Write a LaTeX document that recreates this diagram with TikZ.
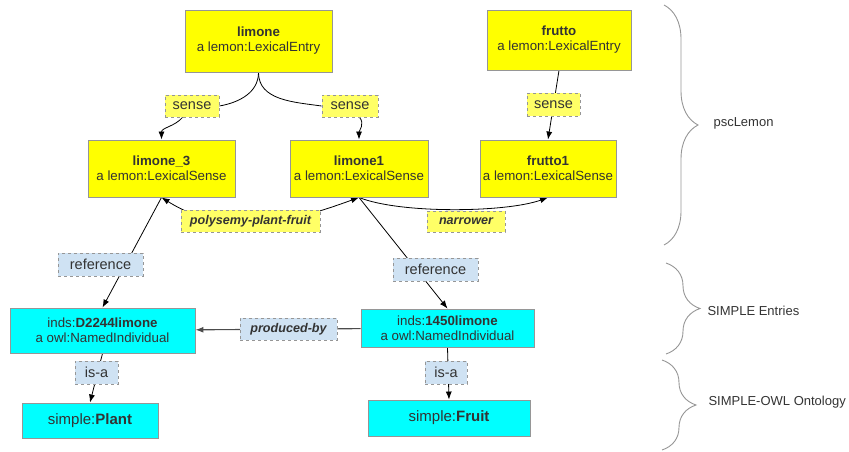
\documentclass[tikz,border=0pt]{standalone}
\usepackage{fontspec}
\setmainfont{Liberation Sans}
\usepackage{xcolor}
\usetikzlibrary{arrows.meta,positioning,backgrounds,decorations.pathreplacing}
\definecolor{lemonyellow}{RGB}{255,255,0}
\definecolor{palelemon}{RGB}{255,255,102}
\definecolor{simplecyan}{RGB}{0,255,255}
\definecolor{paleblue}{RGB}{207,226,243}
\definecolor{boxgray}{RGB}{150,150,150}
\definecolor{inkgray}{RGB}{51,51,51}

\begin{document}
\begin{tikzpicture}[
    x=1pt, y=-1pt,
    every node/.style={text=inkgray},
    >={Latex[length=8pt,width=6pt]},
    entry/.style={draw=boxgray, line width=0.9pt, fill=lemonyellow, align=center,
        inner sep=0pt, font=\fontsize{13.3}{15}\selectfont},
    indiv/.style={entry, fill=simplecyan},
    ylab/.style={draw=boxgray, dashed, line width=0.8pt, fill=palelemon,
        inner sep=0pt, font=\fontsize{14.5}{16}\selectfont},
    blab/.style={ylab, fill=paleblue},
    rel/.style={font=\fontsize{12.6}{14}\selectfont\bfseries\itshape},
    link/.style={line width=0.8pt, draw=black},
    brace/.style={draw=boxgray, line width=0.9pt, decorate,
        decoration={brace, amplitude=34pt}},
    side/.style={anchor=west, font=\fontsize{13}{15}\selectfont}
]
\useasboundingbox (0,0) rectangle (849,451);

% Lexical entries and senses (pscLemon)
\node[entry, minimum width=147pt, minimum height=62pt] (limone) at (258.5,41) {\textbf{limone}\\a lemon:LexicalEntry};
\node[entry, minimum width=144pt, minimum height=60pt] (frutto) at (559,40) {\textbf{frutto}\\a lemon:LexicalEntry};
\node[entry, minimum width=147pt, minimum height=57pt] (limoneThree) at (161.5,168.5) {\textbf{limone\_3}\\a lemon:LexicalSense};
\node[entry, minimum width=138pt, minimum height=57pt] (limoneOne) at (359,168.5) {\textbf{limone1}\\a lemon:LexicalSense};
\node[entry, minimum width=136pt, minimum height=57pt] (fruttoOne) at (548,168.5) {\textbf{frutto1}\\a lemon:LexicalSense};

% SIMPLE individuals and classes
\node[indiv, minimum width=185pt, minimum height=45pt] (dlimone) at (102.5,330.5) {inds:\textbf{D2244limone}\\a owl:NamedIndividual};
\node[indiv, minimum width=173pt, minimum height=38pt] (flimone) at (447.5,328) {inds:\textbf{1450limone}\\a owl:NamedIndividual};
\node[indiv, minimum width=136pt, minimum height=35pt, font=\fontsize{15}{17}\selectfont] (plant) at (90,420.5) {simple:\textbf{Plant}};
\node[indiv, minimum width=162pt, minimum height=36pt, font=\fontsize{15}{17}\selectfont] (fruit) at (449,418) {simple:\textbf{Fruit}};

% Property labels
\node[ylab, minimum width=54pt, minimum height=22pt] (senseA) at (192,106) {sense};
\node[ylab, minimum width=56pt, minimum height=22pt] (senseB) at (350,106) {sense};
\node[ylab, minimum width=53pt, minimum height=23pt] (senseC) at (553.5,104.5) {sense};
\node[ylab, rel, minimum width=139pt, minimum height=22pt] (poly) at (250.5,221) {polysemy-plant-fruit};
\node[ylab, rel, minimum width=78pt, minimum height=21pt] (narrow) at (466,221.5) {narrower};
\node[blab, minimum width=85pt, minimum height=23pt] (refA) at (100.5,264.5) {reference};
\node[blab, minimum width=85pt, minimum height=23pt] (refB) at (435.5,269.5) {reference};
\node[blab, rel, minimum width=97pt, minimum height=22pt] (prodby) at (288.5,329) {produced-by};
\node[blab, minimum width=43pt, minimum height=23pt] (isaA) at (96.5,372.5) {is-a};
\node[blab, minimum width=42pt, minimum height=23pt] (isaB) at (446,372.5) {is-a};

% Connectors behind the labels
\begin{scope}[on background layer]
\draw[link] (limone.south) to[out=-90, in=10] (senseA.east);
\draw[link, ->] (senseA) to[out=-130, in=90] (limoneThree.north);
\draw[link] (limone.south) to[out=-90, in=172] (senseB.west);
\draw[link, ->] (senseB) to[out=-50, in=90] (limoneOne.north);
\draw[link, ->] (frutto.south) -- (fruttoOne.north);
\draw[link, <->] (limoneThree.south) to[out=-32, in=-160] (limoneOne.south);
\draw[link, ->] (limoneOne.south) to[out=-22, in=-160, looseness=0.6] (fruttoOne.south);
\draw[link, ->] (limoneThree.south) -- (dlimone.north);
\draw[link, ->] (limoneOne.south) -- (flimone.north);
\draw[link, ->, draw=black!70, line width=1.1pt] (flimone) -- (dlimone);
\draw[link, ->] (dlimone.south) -- (plant.north);
\draw[link, ->] (flimone.south) -- (fruit.north);
\end{scope}

% Layer braces
\draw[brace] (664,5) -- (664,245);
\node[side] (pscLemon) at (710,123) {pscLemon};
\draw[brace] (666,263) -- (666,354);
\node[side] (entries) at (704,311) {SIMPLE Entries};
\draw[brace] (662,360) -- (662,450);
\node[side] (ontology) at (705,402) {SIMPLE-OWL Ontology};
\end{tikzpicture}
\end{document}
